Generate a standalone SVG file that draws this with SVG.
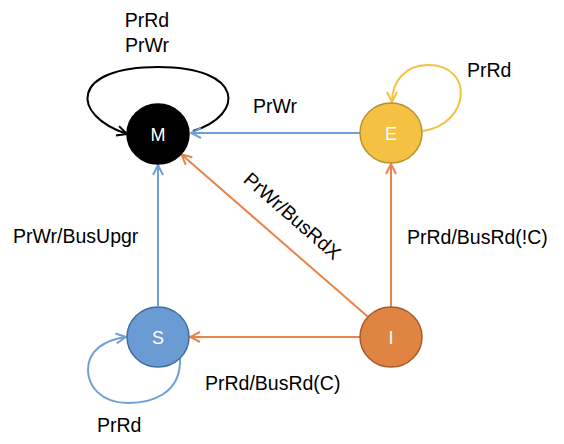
<svg xmlns="http://www.w3.org/2000/svg" width="564" height="444" viewBox="0 0 564 444">
<style>
.lbl{font-family:"Liberation Sans",Arial,sans-serif;font-size:19.5px;fill:#000}
.nt{font-family:"Liberation Sans",Arial,sans-serif;font-size:18px;fill:#fff;text-anchor:middle}
.e{fill:none;stroke-width:2}
.blue{stroke:#6f9fd8}
.orange{stroke:#e8834a}
.yellow{stroke:#f4c242}
.black{stroke:#000}
</style>
<defs>
<marker id="ab" viewBox="0 0 12 12" refX="11" refY="6" markerWidth="12" markerHeight="12" markerUnits="userSpaceOnUse" orient="auto"><path d="M1,1 L11,6 L1,11" fill="none" stroke="#6f9fd8" stroke-width="2"/></marker>
<marker id="ao" viewBox="0 0 12 12" refX="11" refY="6" markerWidth="12" markerHeight="12" markerUnits="userSpaceOnUse" orient="auto"><path d="M1,1 L11,6 L1,11" fill="none" stroke="#e8834a" stroke-width="2"/></marker>
<marker id="ay" viewBox="0 0 12 12" refX="11" refY="6" markerWidth="12" markerHeight="12" markerUnits="userSpaceOnUse" orient="auto"><path d="M1,1 L11,6 L1,11" fill="none" stroke="#f4c242" stroke-width="2"/></marker>
<marker id="ak" viewBox="0 0 12 12" refX="11" refY="6" markerWidth="12" markerHeight="12" markerUnits="userSpaceOnUse" orient="auto"><path d="M1,1 L11,6 L1,11" fill="none" stroke="#000" stroke-width="2"/></marker>
</defs>
<g id="connectors">
<path class="e black" d="M193,131 C245,115 245,67 158,67 C70,67 70,115 127,134" marker-end="url(#ak)"/>
<path class="e yellow" d="M423,131 C470,124 475,65 428,65 C405,65 392,82 392,102" marker-end="url(#ay)"/>
<path class="e blue" d="M180,357 C182,395 150,403 128,403 C100,403 88,385 88,370 C88,350 105,340 126,337" marker-end="url(#ab)"/>
<line class="e blue" x1="360" y1="133" x2="191" y2="133" marker-end="url(#ab)"/>
<line class="e blue" x1="158" y1="306" x2="158" y2="165" marker-end="url(#ab)"/>
<line class="e orange" x1="367.6" y1="316.6" x2="181.5" y2="154.5" marker-end="url(#ao)"/>
<line class="e orange" x1="391" y1="307" x2="391" y2="164" marker-end="url(#ao)"/>
<line class="e orange" x1="360" y1="337" x2="190" y2="337" marker-end="url(#ao)"/>
<text class="lbl" x="147" y="27" text-anchor="middle">PrRd</text>
<text class="lbl" x="147" y="52" text-anchor="middle">PrWr</text>
<text class="lbl" x="467" y="77">PrRd</text>
<text class="lbl" x="253" y="113">PrWr</text>
<text class="lbl" x="13" y="243">PrWr/BusUpgr</text>
<text class="lbl" x="407" y="244">PrRd/BusRd(!C)</text>
<text class="lbl" x="205" y="390">PrRd/BusRd(C)</text>
<text class="lbl" x="97" y="432">PrRd</text>
<text class="lbl" text-anchor="middle" transform="translate(288,221) rotate(41)">PrWr/BusRdX</text>
</g>
<g id="M"><ellipse cx="158" cy="134" rx="31" ry="30" fill="#000" stroke="#000" stroke-width="1.5"/><text class="nt" x="158" y="140.5">M</text></g>
<g id="E"><ellipse cx="391" cy="133" rx="31" ry="30" fill="#f4c142" stroke="#b8912f" stroke-width="1.5"/><text class="nt" x="391" y="139.5">E</text></g>
<g id="S"><ellipse cx="158" cy="337" rx="31" ry="30" fill="#6a9bd3" stroke="#3f6d9e" stroke-width="1.5"/><text class="nt" x="158" y="343.5">S</text></g>
<g id="I"><ellipse cx="391" cy="337" rx="31" ry="30" fill="#e08443" stroke="#a85a26" stroke-width="1.5"/><text class="nt" x="391" y="343.5">I</text></g>
</svg>
